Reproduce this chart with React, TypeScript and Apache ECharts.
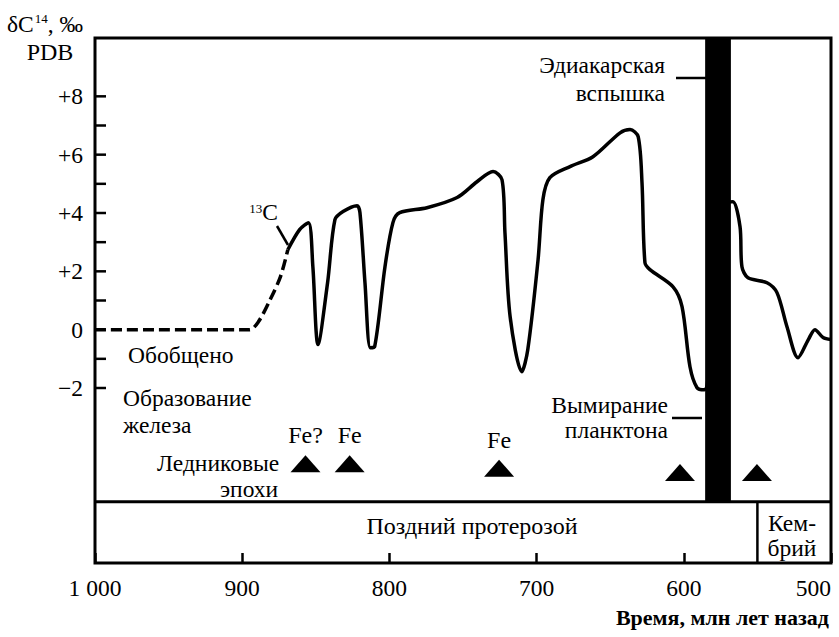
import React, { useEffect, useRef } from "react";
import * as echarts from "echarts";

// δ13C curve: [time (Ma), δ value]
const generalizedPart: [number, number][] = [
  [1000, 0], [895, 0], [889, 0.27], [881, 1.03], [874, 1.82], [869, 2.74],
];
const measuredPart: [number, number][] = [
  [869, 2.74], [861, 3.43], [855, 3.67], [852, 2.16], [848.5, -0.51], [842, 1.61],
  [837, 3.77], [831.5, 4.05], [822, 4.25], [820, 4.01], [816.6, 1.61], [813, -0.62],
  [810, -0.58], [803, 2.16], [797.6, 3.67], [793, 4.01], [774.5, 4.18], [754, 4.53],
  [740.5, 5.07], [729.6, 5.42], [723.5, 5.14], [721.5, 3.33], [718, 0.45], [710, -1.44],
  [706, -0.69], [699, 2.4], [695.7, 4.46], [691, 5.21], [677.3, 5.59], [661.7, 5.93],
  [643.3, 6.75], [636.5, 6.86], [631, 6.62], [628.4, 5.04], [626.4, 2.3], [623, 2.06],
  [607.3, 1.47], [601.2, 0.79], [595.8, -1.27], [591, -1.99], [586, -2.06], [578.8, 1.0],
  [570.7, 4.35], [566.6, 4.39], [561.8, 3.53], [560.5, 2.16], [556.4, 1.78], [543.5, 1.61],
  [536.7, 1.27], [529.9, 0.1], [522.4, -0.96], [515.4, -0.34], [510.9, 0], [505.4, -0.27],
  [500, -0.34],
];

// Glaciations (triangles) and iron formations
const glacialTimes = [857, 827, 725.5, 602.6, 550.3];
const glacialLevels = [-4.6, -4.6, -4.75, -4.9, -4.9];
const ironLabels = ["Fe?", "Fe", "Fe", "", ""];

// Ediacaran burst band (Ma)
const ediacaranBand: [number, number] = [585.5, 568];

// Period boundary (Proterozoic / Cambrian), Ma
const periodBoundaries = [550];
const periodNames = ["Поздний протерозой", "Кем-\nбрий"];

// Axis ticks
const yTickValues = [-2, -1, 0, 1, 2, 3, 4, 5, 6, 7, 8];
const xTickValues = [1000, 900, 800, 700, 600, 500];

const Y_MIN = -8;
const Y_MAX = 10;
const BAND_TOP = -5.9;

const SERIF = "Liberation Serif";
const FS = 23.5;

function fmtY(v: number): string {
  if (v % 2 !== 0) return "";
  if (v > 0) return "+" + v;
  if (v < 0) return "\u2212" + Math.abs(v);
  return "0";
}

function rt(s: string): string {
  return s
    .split("\n")
    .map((l) => (l ? `{a|${l}}` : ""))
    .join("\n");
}

function richA(size: number = FS, weight: string = "normal", lineHeight?: number) {
  const r: any = { fontFamily: SERIF, fontSize: size, fontWeight: weight, fill: "#000", color: "#000" };
  if (lineHeight) r.lineHeight = lineHeight;
  return { a: r };
}

function txt(text: string, x: number, y: number, align: string, opts: any = {}) {
  return {
    type: "text",
    x,
    y,
    style: {
      text: rt(text),
      align,
      verticalAlign: "middle",
      rich: richA(opts.size || FS, opts.weight || "normal", opts.lineHeight),
    },
  };
}

export default function App() {
  const ref = useRef<HTMLDivElement>(null);

  useEffect(() => {
    document.body.style.margin = "0";
    if (!ref.current) return;
    const chart = echarts.init(ref.current, undefined, { renderer: "svg" });

    const option: any = {
      animation: false,
      backgroundColor: "#fff",
      textStyle: { fontFamily: SERIF },
      grid: {
        left: 95,
        right: 8,
        top: 38,
        bottom: 74,
        show: true,
        borderColor: "#000",
        borderWidth: 3,
        backgroundColor: "transparent",
      },
      xAxis: {
        type: "value",
        inverse: true,
        min: 500,
        max: 1000,
        interval: 100,
        axisLine: { show: false, onZero: false },
        axisTick: { show: true, inside: true, length: 10, lineStyle: { color: "#000", width: 2.5 } },
        splitLine: { show: false },
        axisLabel: {
          show: true,
          margin: 13,
          alignMinLabel: "right",
          formatter: (v: number) => (xTickValues.indexOf(v) >= 0 ? `{a|${v === 1000 ? "1 000" : String(v)}}` : ""),
          rich: { a: { fontFamily: SERIF, fontSize: FS, color: "#000" } },
        },
      },
      yAxis: {
        type: "value",
        min: Y_MIN,
        max: Y_MAX,
        axisLine: { show: false, onZero: false },
        axisTick: { show: false },
        axisLabel: { show: false },
        splitLine: { show: false },
      },
      series: [
        {
          type: "line",
          name: "generalized",
          data: generalizedPart,
          symbol: "none",
          smooth: 0.3,
          lineStyle: { color: "#000", width: 3.5, type: [11, 5] },
          z: 3,
        },
        {
          type: "line",
          name: "13C",
          data: measuredPart,
          symbol: "none",
          smooth: 0.3,
          lineStyle: { color: "#000", width: 3.5 },
          z: 3,
        },
        {
          type: "custom",
          name: "ediacaran",
          data: [ediacaranBand],
          clip: false,
          z: 5,
          renderItem: (params: any, api: any) => {
            const p1 = api.coord([api.value(0), Y_MAX]);
            const p2 = api.coord([api.value(1), BAND_TOP]);
            return {
              type: "rect",
              shape: { x: Math.min(p1[0], p2[0]), y: p1[1], width: Math.abs(p2[0] - p1[0]), height: p2[1] - p1[1] },
              style: { fill: "#000" },
            };
          },
        },
        {
          type: "custom",
          name: "periodBoundary",
          data: periodBoundaries.map((t) => [t, BAND_TOP]),
          clip: false,
          z: 4,
          renderItem: (params: any, api: any) => {
            const t = api.value(0);
            const a = api.coord([1000, BAND_TOP]);
            const b = api.coord([500, BAND_TOP]);
            const top = api.coord([t, BAND_TOP]);
            const bottom = api.coord([t, Y_MIN]);
            return {
              type: "group",
              children: [
                { type: "line", shape: { x1: a[0], y1: a[1], x2: b[0], y2: b[1] }, style: { stroke: "#000", lineWidth: 3 } },
                { type: "line", shape: { x1: top[0], y1: top[1], x2: bottom[0], y2: bottom[1] }, style: { stroke: "#000", lineWidth: 2.5 } },
              ],
            };
          },
        },
        {
          type: "custom",
          name: "yTicks",
          data: yTickValues.map((v) => [1000, v]),
          clip: false,
          z: 4,
          renderItem: (params: any, api: any) => {
            const p = api.coord([api.value(0), api.value(1)]);
            const v = api.value(1);
            const children: any[] = [
              { type: "line", shape: { x1: p[0], y1: p[1], x2: p[0] + 11, y2: p[1] }, style: { stroke: "#000", lineWidth: 2.5 } },
            ];
            const label = fmtY(v);
            if (label) children.push(txt(label, p[0] - 12, p[1], "right"));
            return { type: "group", children };
          },
        },
        {
          type: "scatter",
          name: "glaciations",
          data: glacialTimes.map((t, i) => ({ value: [t, glacialLevels[i]], name: ironLabels[i] })),
          symbol: "triangle",
          symbolSize: [30, 17],
          itemStyle: { color: "#000", opacity: 1 },
          z: 6,
          label: {
            show: true,
            position: "top",
            distance: 8,
            formatter: (p: any) => (p.name ? `{a|${p.name}}` : ""),
            rich: { a: { fontFamily: SERIF, fontSize: 24, color: "#000" } },
          },
        },
      ],
      graphic: [
        {
          type: "text",
          left: 7,
          top: 12,
          style: {
            text: "{a|δC}{s|14}{a|, ‰}",
            rich: {
              a: { fontFamily: SERIF, fontSize: FS, fill: "#000" },
              s: { fontFamily: SERIF, fontSize: 13, fill: "#000", verticalAlign: "top", padding: [0, 0, 8, 1] },
            },
          },
        },
        txt("PDB", 50, 52, "center", { size: 24 }),
        txt("Эдиакарская", 665, 65, "right"),
        txt("вспышка", 665, 93, "right"),
        { type: "line", shape: { x1: 676, y1: 78, x2: 706, y2: 78 }, style: { stroke: "#000", lineWidth: 2.5 } },
        {
          type: "text",
          x: 278,
          y: 212,
          style: {
            text: "{s|13}{a|C}",
            align: "right",
            verticalAlign: "middle",
            rich: {
              a: { fontFamily: SERIF, fontSize: FS, fill: "#000" },
              s: { fontFamily: SERIF, fontSize: 13, fill: "#000", padding: [0, 0, 8, 0] },
            },
          },
        },
        { type: "line", shape: { x1: 277, y1: 226, x2: 288, y2: 245 }, style: { stroke: "#000", lineWidth: 2.5 } },
        txt("Обобщено", 128, 355, "left"),
        txt("Образование", 123, 398, "left"),
        txt("железа", 123, 425, "left"),
        txt("Ледниковые", 157, 463, "left"),
        txt("эпохи", 220, 489, "left"),
        txt("Вымирание", 668, 405, "right"),
        txt("планктона", 668, 430, "right"),
        { type: "line", shape: { x1: 672, y1: 418, x2: 702, y2: 418 }, style: { stroke: "#000", lineWidth: 2.5 } },
        txt(periodNames[0], 472, 526, "center", { size: 24 }),
        txt(periodNames[1], 792, 535, "center", { lineHeight: 25 }),
        txt("Время, млн лет назад", 829, 617, "right", { weight: "bold", size: 22 }),
      ],
    };

    chart.setOption(option);
    return () => chart.dispose();
  }, []);

  return <div ref={ref} style={{ width: 839, height: 637, background: "#fff" }} />;
}
